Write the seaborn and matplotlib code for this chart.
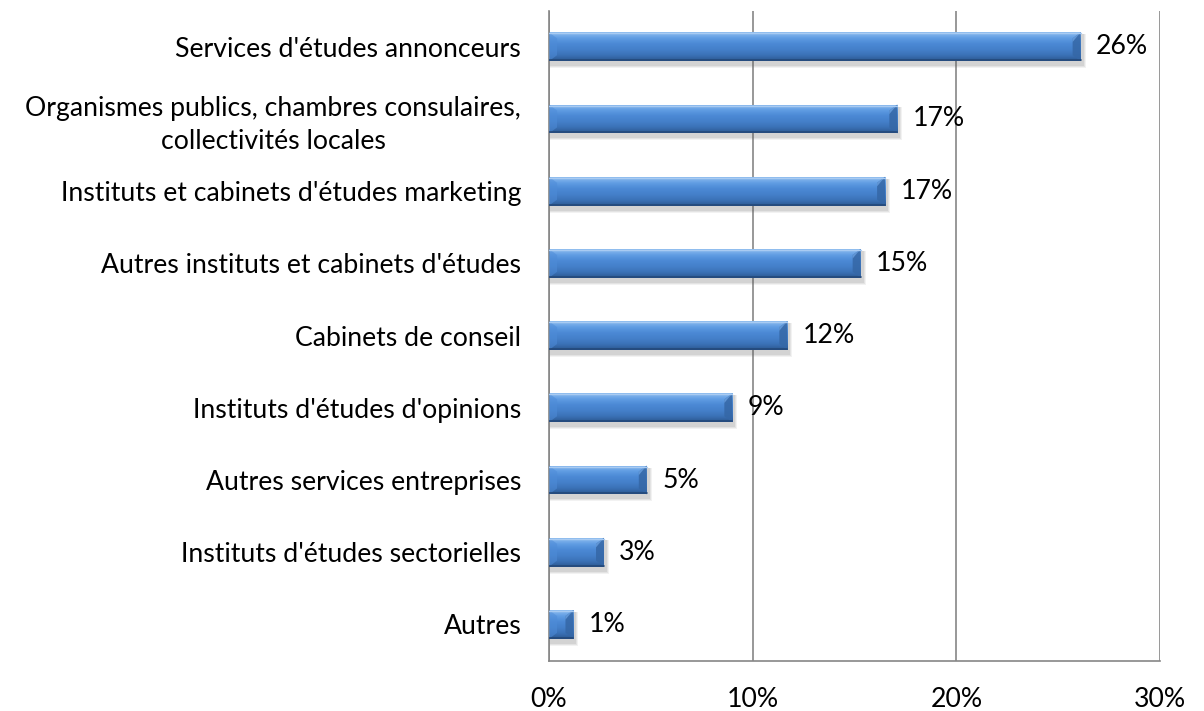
import matplotlib.pyplot as plt
import numpy as np
import pandas as pd
import seaborn as sns
from matplotlib.colors import LinearSegmentedColormap
from matplotlib.patches import Polygon, Rectangle


CATEGORIES = [
    "Services d'études annonceurs",
    "Organismes publics, chambres consulaires,\ncollectivités locales",
    "Instituts et cabinets d'études marketing",
    "Autres instituts et cabinets d'études",
    "Cabinets de conseil",
    "Instituts d'études d'opinions",
    "Autres services entreprises",
    "Instituts d'études sectorielles",
    "Autres",
]
SHARES = [26.1, 17.1, 16.5, 15.3, 11.7, 9.0, 4.8, 2.7, 1.2]
VALUE_LABELS = ["26%", "17%", "17%", "15%", "12%", "9%", "5%", "3%", "1%"]
X_TICKS = [0, 10, 20, 30]
X_TICK_LABELS = ["0%", "10%", "20%", "30%"]

FONT_SIZE = 19.2
GRID_COLOR = "#868686"
BAR_CMAP = LinearSegmentedColormap.from_list(
    "excel_blue",
    ["#8FBDEF", "#609DE3", "#4B89D5", "#4580CA", "#3B72B7", "#2C5891"],
)


def draw_bevel_bar(ax, patch, px_x, px_y):
    x0, y0 = patch.get_x(), patch.get_y()
    w, h = patch.get_width(), patch.get_height()
    x1, y1 = x0 + w, y0 + h

    # soft drop shadow, a few pixels down and right
    for k, alpha in enumerate([0.08, 0.10, 0.12]):
        grow = (3 - k) / px_x
        ax.add_patch(Rectangle((x0 + 1 / px_x, y0 + 2 / px_y), w + 1 / px_x + grow,
                               h + 2 / px_y + (3 - k) / px_y,
                               facecolor="#606060", edgecolor="none",
                               alpha=alpha, zorder=1.5))

    # vertical gradient fill clipped to the bar
    grad = np.linspace(0, 1, 64).reshape(-1, 1)
    img = ax.imshow(grad, cmap=BAR_CMAP, aspect="auto", origin="upper",
                    extent=(x0, x1, y1, y0), zorder=2.5, interpolation="bicubic")
    img.set_clip_path(patch)

    # bevelled end caps
    d = min(8.0 / px_x, w / 2.5)
    b = 6.0 / px_y
    ax.add_patch(Polygon([(x1, y0), (x1 - d, y0 + b), (x1 - d, y1 - b), (x1, y1)],
                         closed=True, facecolor="#3567A6", edgecolor="none",
                         alpha=0.85, zorder=2.6))
    ax.add_patch(Polygon([(x1, y0), (x1 - d, y0 + b), (x1 - d, y0 + b * 1.6)],
                         closed=True, facecolor="#6FA6E6", edgecolor="none",
                         alpha=0.7, zorder=2.65))
    ax.add_patch(Polygon([(x0, y0), (x0 + d, y0 + b), (x0 + d, y1 - b), (x0, y1)],
                         closed=True, facecolor="#4E8CD8", edgecolor="none",
                         alpha=0.55, zorder=2.6))
    # light top rim and dark bottom rim
    ax.plot([x0, x1], [y0 + 1 / px_y, y0 + 1 / px_y], color="#A9CBF2", lw=1.0, zorder=2.7)
    ax.plot([x0, x1], [y1 - 1 / px_y, y1 - 1 / px_y], color="#24497A", lw=1.2, zorder=2.7)


def main() -> None:
    sns.set_theme(style="white")
    plt.rcParams["font.family"] = ["Lato", "DejaVu Sans"]

    df = pd.DataFrame({"category": CATEGORIES, "share": SHARES})

    fig = plt.figure(figsize=(12.04, 7.11), dpi=100)
    ax = fig.add_axes([0.456, 0.071, 0.5075, 0.914])

    sns.barplot(data=df, x="share", y="category", orient="h", width=0.4,
                color="#4A84C8", ax=ax, zorder=2)

    ax.set_xlim(0, 30)
    ax.set_ylim(len(CATEGORIES) - 0.5, -0.5)
    bbox = ax.get_window_extent()
    px_x = bbox.width / 30.0
    px_y = bbox.height / len(CATEGORIES)

    bars = list(ax.patches[:len(CATEGORIES)])
    for patch in bars:
        patch.set_edgecolor("none")
        patch.set_facecolor("none")
    for patch in bars:
        draw_bevel_bar(ax, patch, px_x, px_y)

    ax.bar_label(ax.containers[0], labels=VALUE_LABELS, padding=11,
                 fontsize=FONT_SIZE, color="black")

    ax.set_xlim(0, 30)
    ax.set_ylim(len(CATEGORIES) - 0.5, -0.5)
    ax.set_xticks(X_TICKS)
    ax.set_xticklabels(X_TICK_LABELS)
    ax.set_xlabel("")
    ax.set_ylabel("")

    ax.xaxis.grid(True, color=GRID_COLOR, lw=1.2)
    ax.set_axisbelow(True)
    for side in ["top", "right"]:
        ax.spines[side].set_visible(False)
    for side in ["left", "bottom"]:
        ax.spines[side].set_color(GRID_COLOR)
        ax.spines[side].set_linewidth(1.2)

    ax.tick_params(axis="x", length=0, pad=19, labelsize=FONT_SIZE, colors="black")
    ax.tick_params(axis="y", length=0, pad=20, labelsize=FONT_SIZE, colors="black")
    for lbl in ax.get_yticklabels():
        lbl.set_multialignment("center")
        lbl.set_linespacing(1.4)

    fig.savefig("out.png", dpi=100)
    plt.close(fig)


if __name__ == "__main__":
    main()
